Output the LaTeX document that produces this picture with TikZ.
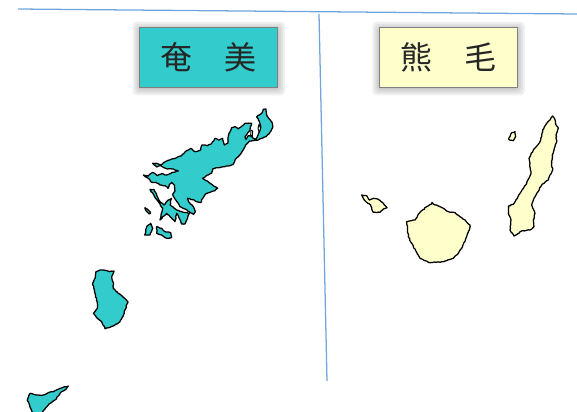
\documentclass[tikz,border=0pt]{standalone}
\usepackage{fontspec}
\newfontfamily\cjk{Noto Sans CJK JP}
\usetikzlibrary{decorations.pathmorphing}
\definecolor{amami}{HTML}{33CCCC}
\definecolor{kuma}{HTML}{FFFFCC}
\definecolor{rule}{HTML}{6FA5DC}
\tikzset{
  island/.style={draw=black,line width=0.95pt,line join=round,decorate,decoration={random steps,segment length=1.3pt,amplitude=0.3pt}},
  ami/.style={island,fill=amami},
  kum/.style={island,fill=kuma},
  bay/.style={draw=black,fill=white,line width=0.7pt,line join=round},
  title/.style={draw=black!50,line width=0.9pt,minimum width=103.5pt,minimum height=44.5pt,inner sep=0pt,font=\cjk\fontsize{24}{24}\selectfont,text=black!85},
  glow/.style={fill=black,opacity=0.06,rounded corners=3pt},
  rulerline/.style={draw=rule,line width=0.95pt}
}
\begin{document}
\begin{tikzpicture}[x=0.75pt,y=-0.75pt]
\useasboundingbox (0,0) rectangle (577,411);
\pgfmathsetseed{11}
\coordinate (t1) at (18,9);
\coordinate (t2) at (577,14);
\coordinate (v1) at (319,14);
\coordinate (v2) at (327,381);
\draw[rulerline] (t1) -- (t2);
\draw[rulerline] (v1) -- (v2);
% label shadows
\foreach \cx in {208.75,448.5}{
  \foreach \g in {1,3,5,7}{
    \fill[glow] (\cx-69.25-\g,57.5-29.75-\g+1) rectangle (\cx+69.25+\g,57.5+29.75+\g+1);
  }
}
\node[title,fill=amami] (amamibox) at (208.75,57.5) {\raisebox{1pt}{奄　美}};
\node[title,fill=kuma] (kumabox) at (448.5,57.5) {\raisebox{1pt}{熊　毛}};
% Amami group
\begin{scope}[shift={(130,95)},x=0.25pt,y=-0.25pt]
\draw[ami] (400,43)--(408,42)--(410,60)--(418,72)--(426,82)--(428,98)--(420,112)--(408,125)--(395,130)--(385,135)--(370,137)--(358,138)--(350,147)--(343,158)--(335,172)--(325,185)--(315,195)--(310,208)--(295,213)--(280,215)--(262,218)--(248,222)--(245,235)--(232,240)--(218,250)--(232,258)--(245,268)--(263,280)--(252,288)--(240,292)--(226,298)--(218,310)--(212,323)--(200,320)--(188,314)--(172,310)--(178,322)--(190,335)--(196,350)--(190,358)--(178,350)--(165,342)--(150,335)--(142,322)--(133,308)--(128,298)--(135,288)--(133,270)--(125,262)--(118,268)--(114,280)--(105,272)--(90,270)--(78,262)--(65,262)--(55,250)--(40,240)--(55,243)--(68,232)--(82,242)--(95,236)--(108,240)--(125,233)--(145,228)--(130,222)--(112,222)--(92,212)--(80,216)--(68,205)--(80,205)--(92,210)--(110,198)--(125,192)--(140,188)--(155,182)--(168,168)--(182,160)--(195,170)--(212,165)--(216,150)--(232,152)--(245,145)--(255,130)--(268,135)--(278,130)--(283,150)--(293,145)--(296,120)--(305,98)--(315,95)--(325,102)--(345,85)--(365,85)--(360,105)--(345,125)--(348,133)--(355,122)--(365,125)--(370,130)--(378,133)--(385,118)--(392,95)--(385,72)--(380,65)--(395,55)--cycle;
\draw[bay] (363,105)--(368,108)--(367,125)--(362,120)--cycle;
\draw[bay] (387,88)--(392,100)--(388,112)--(384,100)--cycle;
\draw[ami] (60,283)--(72,283)--(80,300)--(90,320)--(102,330)--(115,315)--(125,310)--(120,330)--(140,345)--(160,352)--(178,355)--(165,387)--(155,387)--(140,355)--(135,380)--(120,365)--(110,355)--(90,375)--(98,340)--(85,320)--(70,298)--cycle;
\draw[ami] (45,338)--(52,342)--(62,354)--(58,357)--(48,347)--cycle;
\draw[ami] (44,420)--(50,395)--(62,385)--(68,400)--(60,420)--cycle;
\draw[ami] (80,395)--(95,400)--(105,410)--(122,413)--(125,427)--(110,430)--(95,420)--(80,415)--cycle;
\end{scope}
\begin{scope}[shift={(10,260)},x=0.25pt,y=-0.25pt]
\draw[ami] (258,35)--(270,30)--(285,31)--(298,35)--(312,33)--(305,50)--(310,68)--(310,85)--(325,100)--(340,112)--(354,125)--(345,150)--(340,168)--(330,185)--(310,198)--(285,206)--(275,185)--(262,175)--(250,160)--(262,145)--(262,130)--(255,100)--(248,70)--(255,55)--cycle;
\draw[ami] (60,400)--(80,405)--(100,405)--(115,398)--(130,395)--(150,385)--(175,378)--(168,388)--(155,395)--(135,420)--(115,435)--(100,452)--(90,475)--(70,475)--(65,452)--(52,420)--cycle;
\end{scope}
% Kumage group
\begin{scope}[shift={(350,105)},x=0.25pt,y=-0.25pt]
\draw[kum] (608,33)--(615,45)--(617,58)--(625,70)--(618,90)--(620,110)--(615,125)--(607,150)--(605,175)--(608,195)--(600,210)--(595,225)--(575,240)--(560,265)--(550,285)--(545,300)--(555,325)--(550,345)--(552,365)--(540,375)--(515,378)--(492,393)--(480,375)--(483,345)--(475,325)--(475,303)--(490,298)--(510,265)--(530,235)--(543,205)--(537,160)--(550,135)--(570,110)--(575,90)--(578,75)--(590,55)--(600,45)--cycle;
\draw[kum] (476,103)--(485,83)--(495,80)--(497,95)--(490,107)--cycle;
\draw[kum] (35,270)--(50,272)--(58,285)--(70,280)--(85,283)--(100,295)--(111,308)--(100,312)--(90,322)--(70,322)--(62,300)--(50,292)--(40,280)--cycle;
\draw[kum] (170,350)--(195,345)--(210,322)--(230,305)--(245,297)--(246,292)--(250,297)--(270,305)--(295,320)--(312,322)--(330,335)--(345,345)--(360,360)--(358,375)--(350,395)--(335,430)--(320,450)--(310,460)--(280,470)--(240,473)--(210,460)--(190,425)--(175,395)--cycle;
\end{scope}
\end{tikzpicture}
\end{document}
